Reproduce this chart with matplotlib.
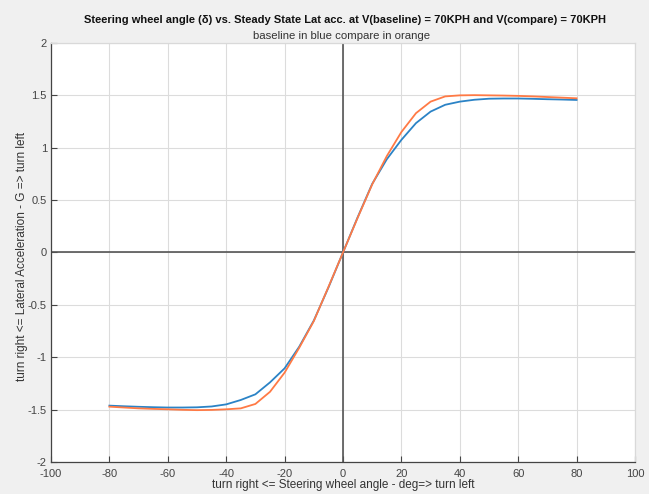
import matplotlib.pyplot as plt
import numpy as np

plt.rcParams['font.family'] = ['Liberation Sans', 'DejaVu Sans']
plt.rcParams['axes.unicode_minus'] = False

# steering wheel angle (deg) and steady-state lateral acceleration (G)
angle = [-80, -75, -70, -65, -60, -55, -50, -45, -40, -35, -30, -25, -20, -15, -10, -5,
         0, 5, 10, 15, 20, 25, 30, 35, 40, 45, 50, 55, 60, 65, 70, 75, 80]
lat_baseline = [-1.462, -1.468, -1.473, -1.477, -1.480, -1.480, -1.478, -1.470, -1.450, -1.408,
                -1.354, -1.240, -1.106, -0.900, -0.650, -0.335,
                0.0, 0.335, 0.655, 0.890, 1.075, 1.235, 1.345, 1.410, 1.440, 1.458,
                1.468, 1.470, 1.470, 1.467, 1.463, 1.460, 1.456]
lat_compare = [-1.472, -1.480, -1.488, -1.493, -1.497, -1.502, -1.505, -1.503, -1.497, -1.488,
               -1.446, -1.330, -1.147, -0.910, -0.655, -0.330,
               0.0, 0.330, 0.650, 0.920, 1.150, 1.330, 1.440, 1.490, 1.500, 1.502,
               1.500, 1.498, 1.495, 1.490, 1.484, 1.478, 1.472]

fig = plt.figure(figsize=(6.49, 4.94), dpi=100, facecolor='#f0f0f0')
ax = fig.add_axes([0.0786, 0.0648, 0.8998, 0.8482])
ax.set_facecolor('white')

ax.axhline(0, color='#555555', lw=1.2, zorder=1)
ax.axvline(0, color='#555555', lw=1.2, zorder=1)
ax.plot(angle, lat_baseline, color='#2b83c6', lw=1.3, zorder=3)
ax.plot(angle, lat_compare, color='#ff7a45', lw=1.3, zorder=3)

ax.set_xlim(-100, 100)
ax.set_ylim(-2, 2)
ax.set_xticks(np.arange(-100, 101, 20))
ax.set_yticks(np.arange(-2, 2.01, 0.5))
ax.set_yticklabels(['-2', '-1.5', '-1', '-0.5', '0', '0.5', '1', '1.5', '2'])
ax.grid(True, color='#dcdcdc', lw=0.8, zorder=0)
ax.set_axisbelow(True)

ax.tick_params(direction='in', length=4, width=0.8, colors='#444444', labelsize=8,
               top=False, right=False, pad=3)
ax.tick_params(axis='x', pad=5)
for s in ['left', 'bottom']:
    ax.spines[s].set_color('#444444')
    ax.spines[s].set_linewidth(0.9)
for s in ['top', 'right']:
    ax.spines[s].set_color('#d9d9d9')
    ax.spines[s].set_linewidth(0.9)

ax.set_xlabel('turn right <= Steering wheel angle - deg=> turn left', fontsize=8.5,
              color='#333333', labelpad=0)
ax.set_ylabel('turn right <= Lateral Acceleration - G => turn left', fontsize=8.5,
              color='#333333')
ax.yaxis.set_label_coords(-0.04, 0.49)

fig.text(0.532, 0.960, 'Steering wheel angle (δ) vs. Steady State Lat acc. at '
         'V(baseline) = 70KPH and V(compare) = 70KPH',
         ha='center', va='center', fontsize=8.0, fontweight='bold', color='#111111')
fig.text(0.527, 0.928, 'baseline in blue compare in orange',
         ha='center', va='center', fontsize=8.2, color='#333333')

fig.savefig('out.png', dpi=100, facecolor=fig.get_facecolor())
